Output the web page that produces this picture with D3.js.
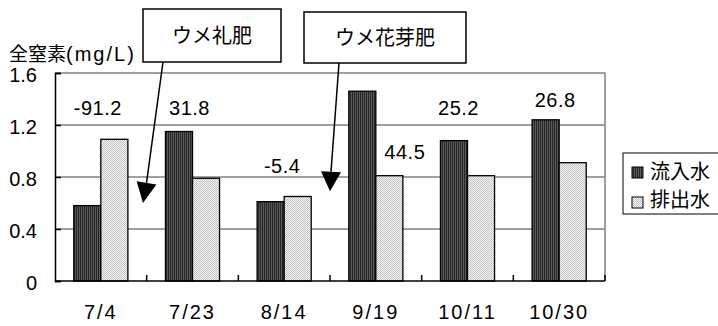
<!DOCTYPE html>
<html>
<head>
<meta charset="UTF-8">
<title>全窒素</title>
<script src="https://d3js.org/d3.v7.min.js"></script>
<style>
  body { margin: 0; background: #fff; }
  svg { display: block; font-family: "Liberation Sans", Arial, "Noto Sans CJK JP", sans-serif; }
</style>
</head>
<body>
<svg width="718" height="326"></svg>
<script>
// データ
var dates = ['7/4', '7/23', '8/14', '9/19', '10/11', '10/30'];
var seriesNames = ['流入水', '排出水'];
var inflow  = [0.58, 1.15, 0.61, 1.46, 1.08, 1.24];
var outflow = [1.09, 0.79, 0.65, 0.81, 0.81, 0.91];
var removal = ['-91.2', '31.8', '-5.4', '44.5', '25.2', '26.8'];
var yTicks = [0, 0.4, 0.8, 1.2, 1.6];
var yTitle = ['全窒素', '(mg/L)'];
var notes = ['ウメ礼肥', 'ウメ花芽肥'];

// 除去率ラベルの位置 (カテゴリ中心からのずれ, 基線のy値)
var labelPos = [[-3, 1.277], [-3, 1.277], [-2, 0.831], [29, 0.938], [-9, 1.277], [-4, 1.338]];

var svg = d3.select('svg');
var plot = { left: 55, right: 605, top: 73, bottom: 281 };

var defs = svg.append('defs');
// 流入水: 縦縞
var p1 = defs.append('pattern').attr('id', 'dark').attr('patternUnits', 'userSpaceOnUse')
  .attr('width', 2).attr('height', 2);
p1.append('rect').attr('width', 2).attr('height', 2).attr('fill', '#5a5a5a');
p1.append('rect').attr('width', 1).attr('height', 2).attr('fill', '#262626');
// 排出水: 細かい点
var p2 = defs.append('pattern').attr('id', 'light').attr('patternUnits', 'userSpaceOnUse')
  .attr('width', 2).attr('height', 2);
p2.append('rect').attr('width', 2).attr('height', 2).attr('fill', '#f4f4f4');
p2.append('rect').attr('width', 1).attr('height', 1).attr('fill', '#c4c4c4');
p2.append('rect').attr('x', 1).attr('y', 1).attr('width', 1).attr('height', 1).attr('fill', '#c4c4c4');
var fills = ['url(#dark)', 'url(#light)'];

var x = d3.scaleBand().domain(dates).range([plot.left, plot.right])
  .paddingInner(0.41).paddingOuter(0.205);
var xs = d3.scaleBand().domain([0, 1]).range([0, x.bandwidth()]);
var y = d3.scaleLinear().domain([0, 1.6]).range([plot.bottom, plot.top]);

// 目盛線
svg.append('g').selectAll('line').data(yTicks.slice(1)).enter().append('line')
  .attr('x1', plot.left).attr('x2', plot.right)
  .attr('y1', function(d) { return y(d); }).attr('y2', function(d) { return y(d); })
  .attr('stroke', '#808080').attr('stroke-width', 1.5);
svg.append('line').attr('x1', plot.right).attr('x2', plot.right)
  .attr('y1', plot.top).attr('y2', plot.bottom)
  .attr('stroke', '#808080').attr('stroke-width', 1.5);

// 棒
var data = [inflow, outflow];
data.forEach(function(vals, si) {
  svg.append('g').selectAll('rect').data(vals).enter().append('rect')
    .attr('x', function(d, i) { return x(dates[i]) + xs(si); })
    .attr('width', xs.bandwidth())
    .attr('y', function(d) { return y(d); })
    .attr('height', function(d) { return y(0) - y(d); })
    .attr('fill', fills[si])
    .attr('stroke', '#000').attr('stroke-width', 1.3);
});

// y軸
var yAxis = d3.axisLeft(y).tickValues(yTicks).tickSize(-6).tickPadding(18)
  .tickFormat(function(d) { return d === 0 ? '0' : d3.format('.1f')(d); });
var gy = svg.append('g').attr('transform', 'translate(' + plot.left + ',0)').call(yAxis);
gy.select('.domain').attr('stroke', '#000').attr('stroke-width', 1.5);
gy.selectAll('.tick line').attr('stroke', '#000').attr('stroke-width', 1.5);
gy.selectAll('text').attr('font-size', 20).attr('fill', '#000').attr('dy', '0.42em');

// x軸
var step = x.step();
var bounds = d3.range(1, dates.length + 1).map(function(i) { return plot.left + i * step; });
svg.append('line').attr('x1', plot.left).attr('x2', plot.right)
  .attr('y1', plot.bottom).attr('y2', plot.bottom)
  .attr('stroke', '#000').attr('stroke-width', 1.5);
svg.append('g').selectAll('line').data(bounds).enter().append('line')
  .attr('x1', function(d) { return d; }).attr('x2', function(d) { return d; })
  .attr('y1', plot.bottom).attr('y2', plot.bottom - 6)
  .attr('stroke', '#000').attr('stroke-width', 1.5);
svg.append('g').selectAll('text').data(dates).enter().append('text')
  .attr('x', function(d) { return x(d) + x.bandwidth() / 2; })
  .attr('y', 319)
  .attr('text-anchor', 'middle').attr('font-size', 20).attr('letter-spacing', 2)
  .text(function(d) { return d; });

// 除去率
svg.append('g').selectAll('text').data(removal).enter().append('text')
  .attr('x', function(d, i) { return x(dates[i]) + x.bandwidth() / 2 + labelPos[i][0]; })
  .attr('y', function(d, i) { return y(labelPos[i][1]); })
  .attr('text-anchor', 'middle').attr('font-size', 20).attr('letter-spacing', 0.5)
  .text(function(d) { return d; });

// 軸タイトル
var title = svg.append('text').attr('x', 9).attr('y', 61);
title.append('tspan').attr('font-size', 19).text(yTitle[0]);
title.append('tspan').attr('font-size', 20).attr('letter-spacing', 2).text(yTitle[1]);

// 注記と矢印
var noteBoxes = [
  { x: 143, y: 9, w: 138, h: 53, from: [163, 62], tip: [143, 0.6], base: [146.5, 0.755] },
  { x: 304, y: 12, w: 162, h: 51, from: [339, 63], tip: [330, 0.69], base: [331, 0.84] }
];
noteBoxes.forEach(function(b, i) {
  var g = svg.append('g');
  g.append('rect').attr('x', b.x).attr('y', b.y).attr('width', b.w).attr('height', b.h)
    .attr('fill', '#fff').attr('stroke', '#000').attr('stroke-width', 1.5);
  g.append('text').attr('x', b.x + b.w / 2).attr('y', b.y + b.h / 2 + 7)
    .attr('text-anchor', 'middle').attr('font-size', 20).text(notes[i]);
  var tx = b.tip[0], ty = y(b.tip[1]), bx = b.base[0], by = y(b.base[1]);
  g.append('line').attr('x1', b.from[0]).attr('y1', b.from[1]).attr('x2', bx).attr('y2', by)
    .attr('stroke', '#000').attr('stroke-width', 1.5);
  var dx = tx - bx, dy = ty - by, len = Math.sqrt(dx * dx + dy * dy);
  var nx = -dy / len * 10, ny = dx / len * 10;
  g.append('path')
    .attr('d', 'M' + tx + ',' + ty + 'L' + (bx + nx) + ',' + (by + ny) + 'L' + (bx - nx) + ',' + (by - ny) + 'Z')
    .attr('fill', '#000');
});

// 凡例
var legend = svg.append('g').attr('transform', 'translate(623,153)');
legend.append('rect').attr('width', 100).attr('height', 61)
  .attr('fill', '#fff').attr('stroke', '#000').attr('stroke-width', 1);
seriesNames.forEach(function(name, i) {
  legend.append('rect').attr('x', 9).attr('y', 14 + i * 30).attr('width', 11).attr('height', 11)
    .attr('fill', fills[i]).attr('stroke', '#000').attr('stroke-width', 1);
  legend.append('text').attr('x', 27).attr('y', 26 + i * 28).attr('font-size', 20).text(name);
});
</script>
</body>
</html>
